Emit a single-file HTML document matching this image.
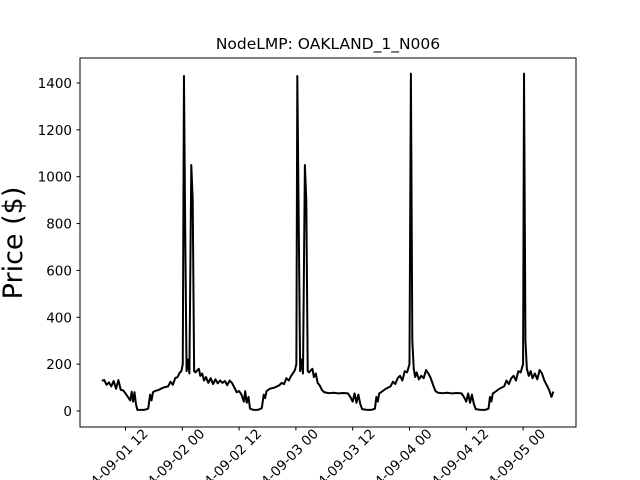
<!DOCTYPE html>
<html><head><meta charset="utf-8"><style>
html,body{margin:0;padding:0;background:#fff;width:640px;height:480px;overflow:hidden;}
svg{display:block;overflow:hidden;font-family:"DejaVu Sans","Liberation Sans",sans-serif;}
</style></head><body>
<svg id="chart" width="640" height="480" viewBox="0 0 640 480">
<rect x="0" y="0" width="640" height="480" fill="#fff"/>
<text x="328" y="49" text-anchor="middle" font-size="15.5">NodeLMP: OAKLAND_1_N006</text>
<text transform="translate(22,243) rotate(-90)" text-anchor="middle" font-size="27">Price ($)</text>
<g id="yticks"></g><g id="xticks"></g>
<path id="line" fill="none" stroke="#000" stroke-width="2" stroke-linejoin="round"/>
<rect x="80" y="58" width="496" height="369" fill="none" stroke="#000" stroke-width="1"/>
</svg>
<script>
// hours since 09-01 00:00
const hours = [7,7.5,8,8.5,9,9.5,10,10.5,11,11.5,12,12.5,13,13.3,13.6,13.9,14.2,14.5,15,16,16.8,17.2,17.5,17.8,18.2,19,20,21,21.5,22,22.5,23,23.5,23.8,24.1,24.35,24.6,24.9,25.2,25.5,25.9,26.2,26.5,26.8,27.2,27.5,27.8,28.2,28.6,29,29.5,30,30.5,31,31.5,32,32.5,33,33.5,34,34.5,35,35.5,36,36.5,37,37.3,37.6,38,38.3,39,40,40.8,41.2,41.5,41.8,42.5,43.5,44.5,45,45.5,46,46.5,47,47.5,47.8,48.1,48.3,48.6,48.9,49.2,49.5,49.9,50.2,50.5,50.8,51.2,51.5,51.8,52.2,52.6,53,53.5,54,54.5,55,56,57,58,59,59.5,60,60.4,60.8,61.2,61.6,62,63,64,64.7,65,65.3,65.6,66,67,68,68.5,69,69.5,70,70.5,71,71.5,72,72.3,72.6,72.9,73.2,73.5,74,74.5,75,75.5,76,76.5,77,77.5,78,79,80,81,82,83,83.5,84,84.4,84.8,85.2,85.6,86,87,88,88.7,89,89.3,89.6,90,91,92,92.5,93,93.5,94,94.5,95,95.5,96,96.2,96.5,96.8,97.2,97.6,98,98.5,99,99.5,100,100.5,101,101.5,102,102.4];
const prices = [129,132,112,122,105,128,95,132,90,88,75,60,45,82,40,80,30,5,5,5,10,70,45,80,85,90,100,105,125,112,140,145,165,170,200,1430,800,170,220,160,1050,900,170,165,175,180,150,160,130,145,120,140,115,135,118,130,120,128,110,130,120,100,80,85,70,40,85,35,60,10,5,5,12,70,55,85,95,100,110,120,115,140,130,150,165,175,200,1430,800,170,220,160,1050,900,170,165,175,180,145,160,120,110,90,80,78,76,78,75,77,75,60,40,75,35,70,30,8,5,5,10,60,40,75,80,95,105,125,115,140,150,130,170,165,200,1440,300,180,145,165,135,150,140,175,160,140,110,85,78,76,78,75,77,75,60,40,75,35,70,30,8,5,5,10,60,40,75,80,95,105,130,115,140,150,130,170,165,200,1440,300,180,150,170,140,160,135,175,160,130,110,90,60,83];
const yTicks = [0,200,400,600,800,1000,1200,1400];
const xTickHours = [12,24,36,48,60,72,84,96];
const xTickLabels = ["09-01 12","09-02 00","09-02 12","09-03 00","09-03 12","09-04 00","09-04 12","09-05 00"];

const NS="http://www.w3.org/2000/svg";
function xs(h){return 182.3+(h-24)*4.733;}
function ys(v){return 411-v*0.2343;}
let d="";
for(let i=0;i<hours.length;i++){d+=(i?"L":"M")+xs(hours[i]).toFixed(2)+","+ys(prices[i]).toFixed(2);}
document.getElementById("line").setAttribute("d",d);
const yg=document.getElementById("yticks");
yTicks.forEach(v=>{
  const y=ys(v);
  const l=document.createElementNS(NS,"line");
  l.setAttribute("x1",76.5);l.setAttribute("x2",80);l.setAttribute("y1",y);l.setAttribute("y2",y);l.setAttribute("stroke","#000");
  
  
  yg.appendChild(l);
  const t=document.createElementNS(NS,"text");
  t.setAttribute("x",72);t.setAttribute("y",y+5);t.setAttribute("text-anchor","end");t.setAttribute("font-size","13.5");
  t.textContent=v;
  
  
  yg.appendChild(t);
});
const xg=document.getElementById("xticks");
xTickHours.forEach((h,i)=>{
  const x=xs(h);
  const l=document.createElementNS(NS,"line");
  l.setAttribute("x1",x);l.setAttribute("x2",x);l.setAttribute("y1",427);l.setAttribute("y2",430.5);l.setAttribute("stroke","#000");
  
  
  xg.appendChild(l);
  const t=document.createElementNS(NS,"text");
  t.setAttribute("transform","translate("+(x-15)+",467) rotate(-45)");
  t.setAttribute("text-anchor","middle");t.setAttribute("dominant-baseline","central");t.setAttribute("font-size","13.5");
  t.textContent="2024-"+xTickLabels[i];
  
  
  xg.appendChild(t);
});
</script>
</body></html>
